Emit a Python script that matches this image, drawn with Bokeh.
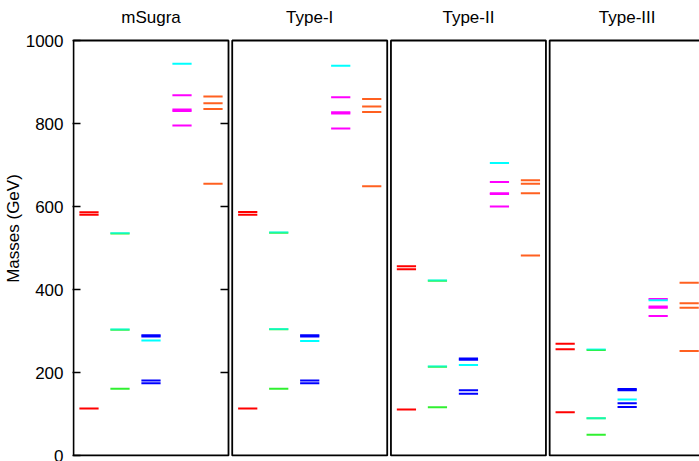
from bokeh.plotting import figure
from bokeh.models import Range1d, FixedTicker, ColumnDataSource
from bokeh.core.properties import value
from bokeh.embed import file_html
from bokeh.resources import INLINE

# ---------------- data (GeV) ----------------
models = ["mSugra", "Type-I", "Type-II", "Type-III"]
y_ticks = [0, 200, 400, 600, 800, 1000]

# column 1: Higgs bosons (red)
higgs = [[113, 580, 586], [113, 580, 587], [111, 449, 456], [104, 256, 269]]
# column 2: neutralinos (green) and charginos (cyan)
neutralinos = [[161, 303, 535], [161, 304, 537], [116, 214, 421], [50, 90, 254]]
charginos = [[304, 536], [305, 538], [215, 422], [90, 256]]
# column 3: sleptons (blue) and sneutrinos (cyan)
sleptons = [[174, 181, 287, 290], [174, 181, 287, 290],
            [149, 157, 231, 234], [117, 126, 157, 160]]
sneutrinos = [[277], [276], [218], [135]]
# column 4: squarks (magenta) and gluino (cyan)
squarks = [[795, 830, 834, 868], [788, 824, 827, 863],
           [600, 630, 632, 659], [336, 356, 359, 377]]
gluino = [[944], [939], [705], [374]]
# column 5: third-generation squarks (orange)
third_gen = [[655, 835, 849, 865], [649, 828, 841, 859],
             [482, 632, 655, 663], [252, 356, 367, 416]]

# (values, column index, colour, alpha) -- drawing order
groups = [
    (higgs, 0, "#ff0000", 1.0),
    (neutralinos, 1, "#30f030", 1.0),
    (charginos, 1, "#00ffff", 0.6),
    (sleptons, 2, "#0000ff", 1.0),
    (sneutrinos, 2, "#00ffff", 1.0),
    (squarks, 3, "#ff00ff", 1.0),
    (gluino, 3, "#00ffff", 1.0),
    (third_gen, 4, "#ff6020", 1.0),
]

# ---------------- layout ----------------
N_COL = 5          # columns per panel (data units, 1 unit = 31 px)
GAP = 0.12         # gap between panels (data units)
HALF = 0.31        # half-width of a level segment
PX = 31.0          # pixels per x data unit
FONT = "Liberation Sans"

def panel_left(k):
    return k * (N_COL + GAP)

W, H = 699, 461
LEFT = 72
p = figure(width=W, height=H, output_backend="svg", toolbar_location=None,
           x_range=Range1d(-1.0 / PX, -1.0 / PX + (W - LEFT) / PX),
           y_range=Range1d(-2.4, 1096.4),
           min_border_left=LEFT, min_border_right=0, min_border_top=0,
           min_border_bottom=5, x_axis_location=None)
p.outline_line_color = None
p.grid.visible = False
p.background_fill_color = "white"
p.border_fill_color = "white"

yax = p.yaxis[0]
yax.ticker = FixedTicker(ticks=y_ticks)
yax.minor_tick_line_color = None
yax.major_tick_in = 8
yax.major_tick_out = 0
yax.major_tick_line_width = 1.5
yax.axis_line_color = None
yax.major_label_standoff = 9
yax.major_label_text_font = FONT
yax.major_label_text_font_size = "17px"
yax.major_label_text_color = "black"
yax.axis_label = "Masses (GeV)"
yax.axis_label_text_font = FONT
yax.axis_label_text_font_size = "17px"
yax.axis_label_text_font_style = "normal"
yax.axis_label_text_color = "black"
yax.axis_label_standoff = 0

# level segments
for vals, col, color, alpha in groups:
    x0, x1, ys = [], [], []
    for k, masses in enumerate(vals):
        c = panel_left(k) + col + 0.5
        for m in masses:
            x0.append(c - HALF)
            x1.append(c + HALF)
            ys.append(m)
    src = ColumnDataSource(dict(x0=x0, x1=x1, y=ys))
    p.segment(x0="x0", x1="x1", y0="y", y1="y", source=src,
              line_color=color, line_alpha=alpha, line_width=2)

# panel frames
lefts = [panel_left(k) for k in range(len(models))]
rights = [l + N_COL for l in lefts]
p.quad(left=lefts, right=rights, bottom=y_ticks[0], top=y_ticks[-1],
       fill_color=None, line_color="black", line_width=1.8)

# mirrored inward ticks on the right side of the first panel
tick_len = 8.0 / PX
inner = y_ticks[1:-1]
p.segment(x0=[rights[0] - tick_len] * len(inner), x1=[rights[0]] * len(inner),
          y0=inner, y1=inner, line_color="black", line_width=1.5)

# panel titles
centers = [l + N_COL / 2 for l in lefts]
p.text(x=centers, y=[1055] * len(models), text=models,
       text_align="center", text_baseline="middle",
       text_font=value(FONT), text_font_size="17px", text_color="black")

open("out.html", "w").write(file_html(p, INLINE))
